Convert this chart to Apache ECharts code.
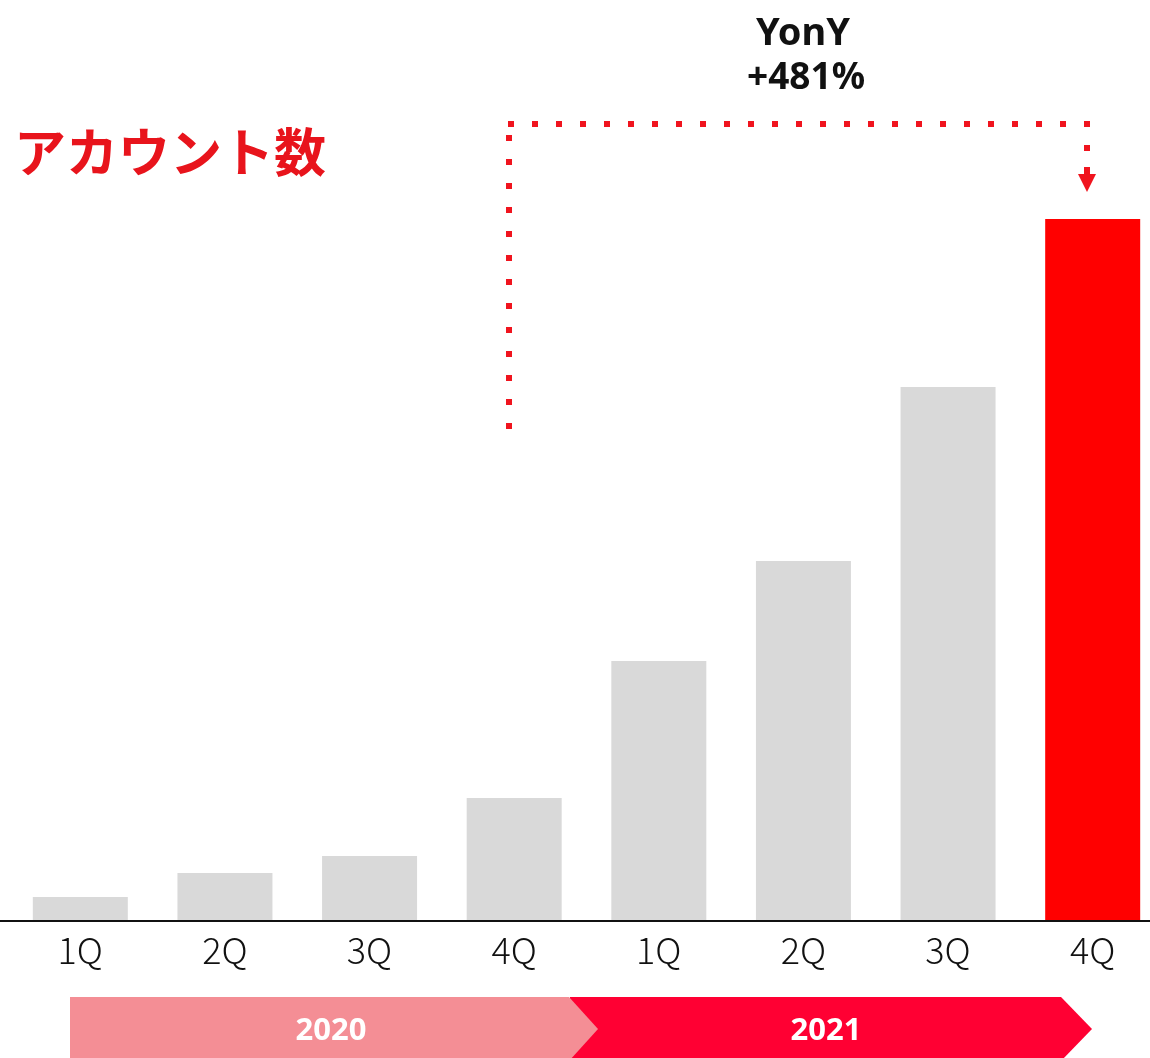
<!DOCTYPE html>
<html>
<head>
<meta charset="utf-8">
<script src="https://cdn.jsdelivr.net/npm/echarts@6/dist/echarts.min.js"></script>
<style>
html,body{margin:0;padding:0;background:#fff;}
#main{width:1150px;height:1058px;}
</style>
</head>
<body>
<div id="main"></div>
<script>
// Data
const categories = ['1Q', '2Q', '3Q', '4Q', '1Q', '2Q', '3Q', '4Q'];
const accounts = [23, 47, 64, 122, 259, 359, 533, 701];
const years = ['2020', '2021'];
const titleText = 'アカウント数';
const growthLabel = 'YonY';
const growthValue = '+481%';

const barColors = accounts.map((v, i) => i === accounts.length - 1 ? '#FF0000' : '#D9D9D9');

const chart = echarts.init(document.getElementById('main'));
const dotRed = '#F0141E';

chart.setOption({
  animation: false,
  grid: { left: 8, top: 219, width: 1157, bottom: 138, containLabel: false, outerBoundsMode: 'none' },
  xAxis: {
    type: 'category',
    data: categories,
    axisLine: { show: false },
    axisTick: { show: false },
    axisLabel: {
      fontSize: 36,
      fontFamily: 'Noto Sans CJK JP',
      fontWeight: 300,
      color: '#111',
      margin: 12
    }
  },
  yAxis: {
    type: 'value', min: 0, max: 701,
    show: false, splitLine: { show: false }
  },
  series: [{
    type: 'bar',
    barWidth: 95,
    data: accounts.map((v, i) => ({ value: v, itemStyle: { color: barColors[i] } })),
    z: 2
  }],
  graphic: [
    // baseline
    { type: 'line', z: 10, shape: { x1: 0, y1: 921, x2: 1150, y2: 921 }, style: { stroke: '#111', lineWidth: 2 } },
    // title
    { type: 'text', left: 14, top: 126, z: 10,
      style: { text: titleText, fontSize: 52, fontWeight: 'bold', fontFamily: 'Noto Sans CJK JP', fill: '#E8141C' } },
    // YonY
    { type: 'text', x: 803, y: 34, z: 10,
      style: { text: growthLabel, fontSize: 38, fontWeight: 'bold', fontFamily: 'Noto Sans', fill: '#111', align: 'center', verticalAlign: 'middle' } },
    { type: 'text', x: 806, y: 78, z: 10,
      style: { text: growthValue, fontSize: 37, fontWeight: 'bold', fontFamily: 'Noto Sans', fill: '#111', align: 'center', verticalAlign: 'middle' } },
    // dotted connector
    { type: 'line', z: 10, shape: { x1: 509, y1: 429, x2: 509, y2: 135 },
      style: { stroke: dotRed, lineWidth: 6, lineDash: [6, 18], lineCap: 'butt' } },
    { type: 'line', z: 10, shape: { x1: 508, y1: 124, x2: 1090, y2: 124 },
      style: { stroke: dotRed, lineWidth: 6, lineDash: [6, 18], lineCap: 'butt' } },
    { type: 'rect', z: 10, shape: { x: 1084, y: 145, width: 6, height: 6 }, style: { fill: dotRed } },
    { type: 'rect', z: 10, shape: { x: 1084, y: 167, width: 6, height: 9 }, style: { fill: dotRed } },
    { type: 'polygon', z: 10, shape: { points: [[1078, 174], [1096, 174], [1087, 192]] }, style: { fill: dotRed } },
    // year chevrons
    { type: 'polygon', z: 5, shape: { points: [[570, 997], [1061, 997], [1092, 1029], [1061, 1061], [570, 1061]] }, style: { fill: '#FF0033' } },
    { type: 'polygon', z: 6, shape: { points: [[70, 997], [569, 997], [598, 1029], [569, 1061], [70, 1061]] }, style: { fill: '#F48E95' } },
    { type: 'text', x: 331, y: 1031, z: 10,
      style: { text: years[0], fontSize: 31, fontWeight: 'bold', fontFamily: 'Noto Sans', fill: '#fff', align: 'center', verticalAlign: 'middle' } },
    { type: 'text', x: 826, y: 1031, z: 10,
      style: { text: years[1], fontSize: 31, fontWeight: 'bold', fontFamily: 'Noto Sans', fill: '#fff', align: 'center', verticalAlign: 'middle' } }
  ]
});
</script>
</body>
</html>
